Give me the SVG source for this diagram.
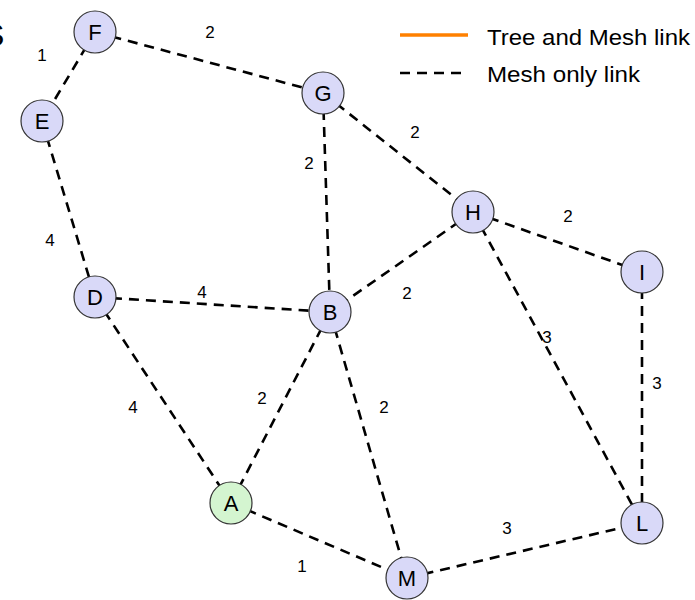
<svg xmlns="http://www.w3.org/2000/svg" width="695" height="600" viewBox="0 0 695 600">
<style>
.e{stroke:#000;stroke-width:2.6;stroke-dasharray:10 7;fill:none}
.n circle{fill:#d9d9f8;stroke:#333;stroke-width:1.2}
.n text{font-family:"Liberation Sans",Arial,sans-serif;font-size:22px;text-anchor:middle;fill:#000}
.l{font-family:"Liberation Sans",Arial,sans-serif;font-size:17px;text-anchor:middle;fill:#000}
.g{font-family:"Liberation Sans",Arial,sans-serif;font-size:22px;fill:#000}
</style>
<rect width="695" height="600" fill="#fff"/>
<text class="g" x="-17" y="46" style="font-size:32px">S</text>
<g id="legend">
<line x1="400" y1="35" x2="468" y2="35" stroke="#ff8000" stroke-width="3.5"/>
<text class="g" x="487" y="45" textLength="203" lengthAdjust="spacingAndGlyphs">Tree and Mesh link</text>
<line x1="400" y1="73" x2="468" y2="73" class="e"/>
<text class="g" x="487" y="82" textLength="153" lengthAdjust="spacingAndGlyphs">Mesh only link</text>
</g>
<g id="connectors">
<line class="e" x1="95" y1="32" x2="42" y2="121"/>
<line class="e" x1="95" y1="32" x2="323" y2="93"/>
<line class="e" x1="323" y1="93" x2="330" y2="312"/>
<line class="e" x1="323" y1="93" x2="473" y2="212"/>
<line class="e" x1="473" y1="212" x2="642" y2="272"/>
<line class="e" x1="42" y1="121" x2="95" y2="297"/>
<line class="e" x1="95" y1="297" x2="330" y2="312"/>
<line class="e" x1="473" y1="212" x2="330" y2="312"/>
<line class="e" x1="473" y1="212" x2="642" y2="523"/>
<line class="e" x1="642" y1="272" x2="642" y2="523"/>
<line class="e" x1="95" y1="297" x2="231" y2="503"/>
<line class="e" x1="231" y1="503" x2="330" y2="312"/>
<line class="e" x1="330" y1="312" x2="407" y2="578"/>
<line class="e" x1="407" y1="578" x2="642" y2="523"/>
<line class="e" x1="231" y1="503" x2="407" y2="578"/>
<text class="l" x="42" y="61">1</text>
<text class="l" x="210" y="38">2</text>
<text class="l" x="309" y="169">2</text>
<text class="l" x="415" y="138">2</text>
<text class="l" x="568" y="222">2</text>
<text class="l" x="50" y="246">4</text>
<text class="l" x="202" y="298">4</text>
<text class="l" x="407" y="299">2</text>
<text class="l" x="547" y="343">3</text>
<text class="l" x="657" y="389">3</text>
<text class="l" x="133" y="413">4</text>
<text class="l" x="262" y="404">2</text>
<text class="l" x="384" y="413">2</text>
<text class="l" x="507" y="534">3</text>
<text class="l" x="302" y="572">1</text>
</g>
<g id="F" class="n"><circle cx="95" cy="32" r="21"/><text x="95" y="40">F</text></g>
<g id="E" class="n"><circle cx="42" cy="121" r="21"/><text x="42" y="129">E</text></g>
<g id="G" class="n"><circle cx="323" cy="93" r="21"/><text x="323" y="101">G</text></g>
<g id="H" class="n"><circle cx="473" cy="212" r="21"/><text x="473" y="220">H</text></g>
<g id="I" class="n"><circle cx="642" cy="272" r="21"/><text x="642" y="280">I</text></g>
<g id="D" class="n"><circle cx="95" cy="297" r="21"/><text x="95" y="305">D</text></g>
<g id="B" class="n"><circle cx="330" cy="312" r="21"/><text x="330" y="320">B</text></g>
<g id="A" class="n"><circle cx="231" cy="503" r="21" style="fill:#d4f5d0"/><text x="231" y="511">A</text></g>
<g id="M" class="n"><circle cx="407" cy="578" r="21"/><text x="407" y="586">M</text></g>
<g id="L" class="n"><circle cx="642" cy="523" r="21"/><text x="642" y="531">L</text></g>
</svg>
